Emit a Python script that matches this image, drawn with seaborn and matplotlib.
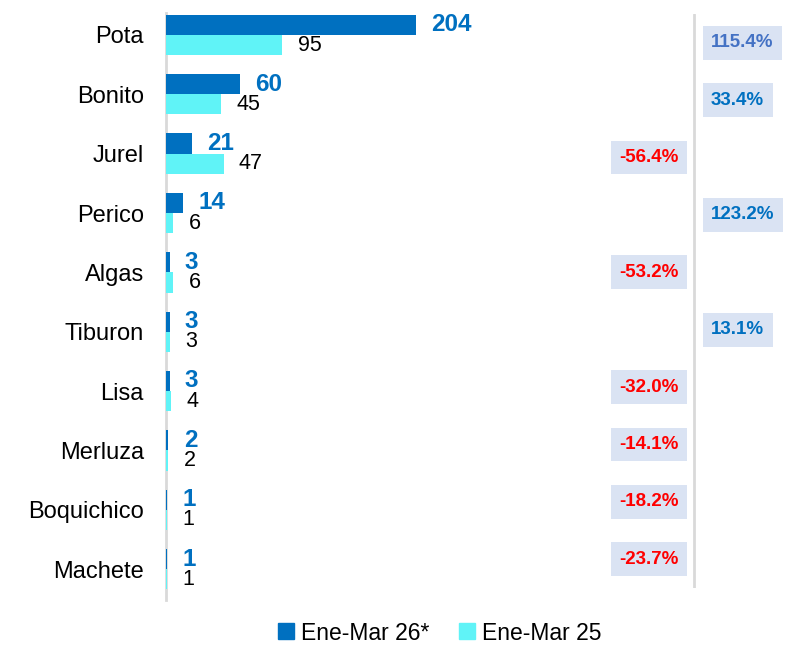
import matplotlib
matplotlib.use("Agg")
import matplotlib.pyplot as plt
from matplotlib.lines import Line2D
import seaborn as sns
import pandas as pd

# data
species = ["Pota", "Bonito", "Jurel", "Perico", "Algas",
           "Tiburon", "Lisa", "Merluza", "Boquichico", "Machete"]
ene_mar_26 = [204, 60, 21, 14, 3, 3, 3, 2, 1, 1]
ene_mar_25 = [95, 45, 47, 6, 6, 3, 4, 2, 1, 1]
var_pct = [115.4, 33.4, -56.4, 123.2, -53.2, 13.1, -32.0, -14.1, -18.2, -23.7]
series = ["Ene-Mar 26*", "Ene-Mar 25"]

DARK = "#0070c0"
LIGHT = "#60f3f7"
GRID = "#d9d9d9"
BOX = "#dae3f3"

sns.set_theme(style="white")
plt.rcParams["font.family"] = ["Liberation Sans", "DejaVu Sans"]

df = pd.DataFrame({
    "especie": species * 2,
    "valor": ene_mar_26 + ene_mar_25,
    "periodo": [series[0]] * len(species) + [series[1]] * len(species),
})

W, H = 792, 647
fig = plt.figure(figsize=(W / 100, H / 100), dpi=100)

# main bar axes (pixel layout from reference)
ax = fig.add_axes([166 / W, 1 - 600 / H, 434 / W, 587 / H])
sns.barplot(data=df, y="especie", x="valor", hue="periodo", orient="h",
            palette=[DARK, LIGHT], width=0.68, saturation=1, ax=ax,
            legend=False, linewidth=0)
ax.set_xlim(0, 434 / 1.225)
ax.set_ylim(9.52, -0.37)
ax.set_xlabel("")
ax.set_ylabel("")
ax.set_xticks([])
for side in ["top", "right", "bottom"]:
    ax.spines[side].set_visible(False)
ax.spines["left"].set_color(GRID)
ax.spines["left"].set_linewidth(2)
ax.spines["left"].set_zorder(0)
ax.tick_params(axis="y", length=0, pad=16, labelsize=17, labelcolor="black")

ax.bar_label(ax.containers[0], labels=[str(v) for v in ene_mar_26],
             padding=11, fontsize=17.5, fontweight="bold", color=DARK)
ax.bar_label(ax.containers[1], labels=[str(v) for v in ene_mar_25],
             padding=11, fontsize=15.5, color="black")

# variation column
ax2 = fig.add_axes([600 / W, 1 - 588 / H, 192 / W, 574 / H])
ax2.set_xlim(-94, 98)
ax2.set_ylim(9.5, -0.5)
ax2.axis("off")
ax2.axvline(0, ymin=0.0, ymax=1.0, color=GRID, linewidth=2)
for i, p in enumerate(var_pct):
    if p < 0:
        col, x, ha = "#ff0000", -15, "right"
    else:
        col, x, ha = ("#4472c4" if i == 0 else DARK), 17, "left"
    ax2.text(x, i, f"{p:.1f}%", ha=ha, va="center", fontsize=13.5,
             fontweight="bold", color=col,
             bbox=dict(boxstyle="square,pad=0.45", facecolor=BOX,
                       edgecolor="none"))

handles = [Line2D([], [], marker="s", linestyle="none", markersize=11,
                  markerfacecolor=c, markeredgecolor=c)
           for c in [DARK, LIGHT]]
leg = fig.legend(handles, series, loc="center",
                 bbox_to_anchor=(440 / W, 1 - 633 / H), ncol=2, frameon=False,
                 fontsize=16.5, handlelength=0.7, handletextpad=0.3,
                 columnspacing=1.3)
for t in leg.get_texts():
    t.set_color("black")

plt.savefig("out.png", dpi=100)
plt.close()
